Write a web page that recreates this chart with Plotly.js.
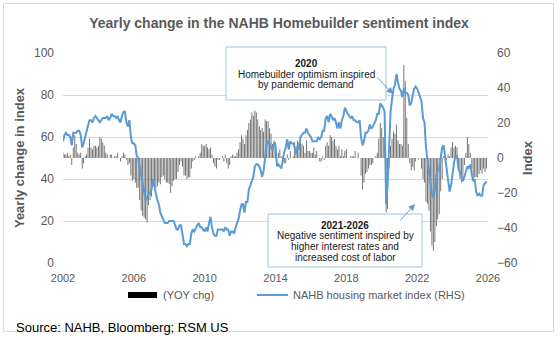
<!DOCTYPE html>
<html><head><meta charset="utf-8">
<script src="https://cdn.plot.ly/plotly-3.0.1.min.js"></script>
<style>html,body{margin:0;padding:0;background:#fff}#chart{width:560px;height:340px}</style>
</head><body><div id="chart"></div>
<script>
// ---- data (monthly, Jan 2002 - Dec 2025) ----
const startYear = 2002;
const hmiIndex = [
  58, 61, 62, 61, 61, 60, 56, 62, 62, 62, 63, 63,
  61, 55, 57, 60, 62, 66, 68, 68, 67, 69, 70, 69,
  68, 67, 68, 69, 69, 69, 70, 68, 69, 71, 70, 70,
  69, 70, 68, 67, 70, 72, 72, 67, 65, 68, 60, 57,
  57, 56, 51, 50, 46, 42, 39, 33, 30, 31, 33, 33,
  35, 40, 36, 33, 30, 28, 24, 22, 20, 19, 19, 19,
  20, 20, 20, 20, 18, 16, 16, 18, 18, 14, 9, 9,
  8, 9, 9, 14, 16, 15, 17, 18, 19, 17, 17, 16,
  15, 17, 15, 19, 22, 17, 14, 13, 13, 16, 16, 16,
  16, 15, 17, 16, 16, 13, 15, 15, 14, 17, 19, 21,
  25, 28, 28, 24, 29, 29, 35, 37, 40, 41, 46, 47,
  47, 46, 44, 41, 44, 51, 56, 58, 57, 55, 54, 57,
  56, 46, 47, 46, 45, 49, 53, 55, 59, 54, 58, 57,
  57, 55, 52, 56, 54, 60, 61, 62, 62, 64, 62, 61,
  60, 58, 58, 58, 58, 60, 59, 60, 63, 63, 69, 70,
  67, 71, 70, 68, 69, 67, 64, 67, 64, 68, 70, 74,
  72, 71, 70, 69, 70, 68, 68, 67, 67, 68, 60, 56,
  58, 62, 62, 63, 66, 64, 65, 67, 68, 71, 71, 76,
  75, 74, 72, 28, 37, 58, 72, 78, 83, 85, 90, 86,
  83, 82, 79, 83, 81, 81, 80, 75, 76, 80, 83, 84,
  83, 81, 79, 77, 69, 67, 55, 49, 46, 38, 33, 31,
  35, 42, 44, 45, 50, 55, 56, 50, 45, 40, 34, 37,
  44, 48, 51, 51, 45, 43, 42, 39, 41, 43, 46, 45,
  47, 42, 39, 40, 34, 32, 33, 32, 32, 37, 38, 39
];
const yoyChange = [
  3, 2, 2, 3, 1, 2, -4, 6, 13, 8, 3, 2,
  3, -6, -3, 1, 2, 6, 11, 6, 5, 7, 7, 6,
  7, 12, 11, 9, 7, 3, 2, 0, 2, 2, 0, 1,
  1, 3, 0, -2, 1, 3, 2, -1, -4, -3, -10, -13,
  -12, -14, -17, -17, -24, -30, -33, -34, -35, -37, -27, -24,
  -22, -16, -15, -17, -16, -14, -15, -11, -10, -12, -14, -14,
  -15, -20, -16, -13, -12, -12, -8, -4, -2, -5, -10, -10,
  -12, -11, -11, -6, -2, -1, 1, 0, 1, 3, 8, 7,
  7, 8, 6, 5, 6, 2, -3, -5, -6, -1, -1, 0,
  1, -2, 2, -3, -6, -4, 1, 2, 1, 1, 3, 5,
  9, 13, 11, 8, 13, 16, 20, 22, 26, 24, 27, 26,
  22, 18, 16, 17, 15, 22, 21, 21, 17, 14, 8, 10,
  9, 0, 3, 5, 1, -2, -3, -3, 2, -1, 4, 0,
  1, 9, 5, 10, 9, 11, 8, 7, 3, 10, 4, 4,
  3, 3, 6, 2, 4, 0, -2, -2, 1, -1, 7, 9,
  7, 13, 12, 10, 11, 7, 5, 7, 1, 5, 1, 4,
  5, 0, 0, 1, 1, 1, 4, 0, 3, 0, -10, -18,
  -14, -9, -8, -6, -4, -4, -3, 0, 1, 3, 11, 20,
  17, 12, 10, -31, -29, -6, 7, 11, 15, 14, 19, 10,
  8, 8, 7, 53, 44, 23, 8, -3, -7, -5, -7, -2,
  0, -1, 0, -6, -12, -14, -25, -26, -30, -42, -50, -53,
  -48, -39, -35, -32, -19, -12, 1, 1, -1, 2, 1, 6,
  9, 6, 7, 6, -5, -12, -14, -11, -4, 3, 12, 8,
  3, -6, -12, -11, -11, -11, -9, -7, -9, -6, -8, -6
];
const xTickYears = ['2002', '2006', '2010', '2014', '2018', '2022', '2026'];
const leftTicks = [0, 20, 40, 60, 80, 100];
const rightTicks = [-60, -40, -20, 0, 20, 40, 60];
const seriesNames = ['(YOY chg)', 'NAHB housing market index (RHS)'];

// ---- build ----
const months = hmiIndex.map((_, i) => {
  const y = startYear + Math.floor(i / 12);
  const m = (i % 12) + 1;
  return y + '-' + String(m).padStart(2, '0') + '-01';
});
const tickDates = xTickYears.map(y => y + '-01-01');

const FONT = 'Liberation Sans, Arial, sans-serif';
const GRAY = '#595959';
const BLUE = '#5b9bd5';
// plot area in pixels
const L = 63, R = 488, T = 53, B = 263;
const px = x => (x - L) / (R - L);
const py = y => (B - y) / (B - T);

const traces = [
  { type: 'bar', x: months, y: yoyChange, name: seriesNames[0], xaxis: 'x', yaxis: 'y',
    marker: { color: '#666666', line: { width: 0 } }, showlegend: false, hoverinfo: 'x+y' },
  { type: 'scatter', mode: 'lines', x: months, y: hmiIndex, name: seriesNames[1], xaxis: 'x', yaxis: 'y2',
    line: { color: BLUE, width: 2 }, showlegend: false }
];

const boxLine = '#a3c1da';
const annotations = [];
function txt(x, y, text, size, color, anchor) {
  annotations.push({ xref: 'paper', yref: 'paper', x: px(x), y: py(y), text: text, showarrow: false,
    xanchor: anchor || 'center', yanchor: 'middle', font: { family: FONT, size: size, color: color } });
}
// box 1 text
txt(306, 63.5, '<b>2020</b>', 10, '#1a1a1a');
txt(306, 74, 'Homebuilder optimism inspired', 10, '#1a1a1a');
txt(306, 84.5, 'by pandemic demand', 10, '#1a1a1a');
// box 2 text
txt(345, 225, '<b>2021-2026</b>', 10, '#1a1a1a');
txt(345, 235.8, 'Negative sentiment inspired by', 10, '#1a1a1a');
txt(345, 246.6, 'higher interest rates and', 10, '#1a1a1a');
txt(345, 257.4, 'increased cost of labor', 10, '#1a1a1a');
// arrows
annotations.push({ xref: 'paper', yref: 'paper', x: px(393), y: py(94), ax: -17, ay: -18, text: '',
  showarrow: true, arrowhead: 2, arrowsize: 1.3, arrowwidth: 1, arrowcolor: BLUE });
annotations.push({ xref: 'paper', yref: 'paper', x: px(415), y: py(204), ax: -16, ay: 18, text: '',
  showarrow: true, arrowhead: 2, arrowsize: 1.3, arrowwidth: 1, arrowcolor: BLUE });
// legend text
txt(160.5, 295, seriesNames[0], 11, GRAY, 'left');
txt(290.5, 295, seriesNames[1], 11, GRAY, 'left');
// source
txt(14, 327, 'Source: NAHB, Bloomberg; RSM US', 13, '#000000', 'left');

const shapes = [
  { type: 'rect', xref: 'paper', yref: 'paper', x0: px(3.5), x1: px(553.5), y0: py(331.5), y1: py(3.5),
    line: { color: '#d9d9d9', width: 1 }, fillcolor: 'rgba(0,0,0,0)', layer: 'below' },
  { type: 'rect', xref: 'paper', yref: 'paper', x0: px(226), x1: px(386), y0: py(100), y1: py(47),
    line: { color: boxLine, width: 1 }, fillcolor: '#ffffff', layer: 'above' },
  { type: 'rect', xref: 'paper', yref: 'paper', x0: px(268), x1: px(422), y0: py(267), y1: py(214),
    line: { color: boxLine, width: 1 }, fillcolor: '#ffffff', layer: 'above' },
  { type: 'rect', xref: 'paper', yref: 'paper', x0: px(128), x1: px(157), y0: py(298), y1: py(292),
    line: { width: 0 }, fillcolor: '#000000', layer: 'above' },
  { type: 'line', xref: 'paper', yref: 'paper', x0: px(257), x1: px(288), y0: py(295), y1: py(295),
    line: { color: BLUE, width: 2 }, layer: 'above' }
];

const layout = {
  width: 560, height: 340,
  margin: { l: L, r: 560 - R, t: T, b: 340 - B, pad: 0 },
  paper_bgcolor: '#ffffff', plot_bgcolor: '#ffffff',
  font: { family: FONT, color: GRAY, size: 12 },
  title: { text: '<b>Yearly change in the NAHB Homebuilder sentiment index</b>',
    font: { family: FONT, size: 14, color: GRAY },
    xref: 'container', yref: 'container', x: 279 / 560, xanchor: 'center', y: 1 - 23 / 340, yanchor: 'middle' },
  bargap: 0.35,
  showlegend: false,
  xaxis: { type: 'date', range: ['2002-01-01', '2026-01-01'], tickvals: tickDates, ticktext: xTickYears,
    showgrid: false, zeroline: false, showline: false, ticks: '', ticklabelstandoff: 7,
    tickfont: { family: FONT, size: 11, color: GRAY }, fixedrange: true },
  yaxis: { side: 'right', range: [-60, 60], tickvals: rightTicks, showgrid: false, zeroline: false,
    showline: false, ticks: '', ticklabelstandoff: 8,
    tickfont: { family: FONT, size: 12, color: GRAY },
    title: { text: '<b>Index</b>', font: { family: FONT, size: 13, color: GRAY }, standoff: 6 } },
  yaxis2: { overlaying: 'y', side: 'left', range: [0, 100], tickvals: leftTicks, showgrid: true,
    gridcolor: '#d9d9d9', gridwidth: 1, zeroline: false, showline: false, ticks: '', ticklabelstandoff: 8,
    tickfont: { family: FONT, size: 12, color: GRAY },
    title: { text: '<b>Yearly change in index</b>', font: { family: FONT, size: 13, color: GRAY }, standoff: 6 } },
  shapes: shapes,
  annotations: annotations
};

Plotly.newPlot('chart', traces, layout, { staticPlot: true, displayModeBar: false });
</script>
</body></html>
